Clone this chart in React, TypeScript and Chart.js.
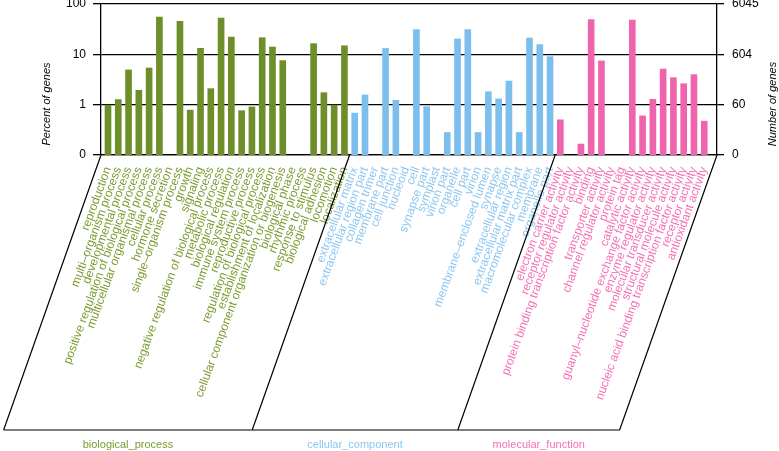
import { useEffect, useRef } from 'react';
import { Chart, registerables } from 'chart.js';
import type { Plugin } from 'chart.js';

Chart.register(...registerables);

const TOTAL_GENES = 6045;

// percent of genes per GO term (0 = no bar)
const bioLabels = [
  'reproduction',
  'multi–organism process',
  'developmental process',
  'positive regulation of biological process',
  'multicellular organismal process',
  'cellular process',
  'hormone secretion',
  'single–organism process',
  'growth',
  'signaling',
  'negative regulation of biological process',
  'metabolic process',
  'biological regulation',
  'immune system process',
  'reproductive process',
  'regulation of biological process',
  'establishment of localization',
  'cellular component organization or biogenesis',
  'biological phase',
  'rhythmic process',
  'response to stimulus',
  'biological adhesion',
  'locomotion',
  'localization',
];
const bioValues = [
  0.98, 1.26, 4.9, 1.93, 5.35, 55, 0, 45, 0.78, 13.2, 2.08, 52.7, 22, 0.76, 0.9,
  21.4, 14, 7.5, 0, 0, 16.3, 1.73, 0.98, 14.8,
];

const ccLabels = [
  'extracellular matrix',
  'extracellular region part',
  'collagen trimer',
  'membrane part',
  'cell junction',
  'nucleoid',
  'cell',
  'synapse part',
  'symplast',
  'virion part',
  'organelle',
  'cell part',
  'virion',
  'membrane–enclosed lumen',
  'synapse',
  'extracellular region',
  'extracellular matrix part',
  'macromolecular complex',
  'membrane',
  'organelle part',
];
const ccValues = [
  0.68, 1.56, 0, 13.1, 1.22, 0, 31, 0.91, 0, 0.28, 20.2, 31, 0.28, 1.81, 1.3, 2.95,
  0.28, 21.1, 15.6, 9.0,
];

const mfLabels = [
  'electron carrier activity',
  'receptor regulator activity',
  'protein binding transcription factor activity',
  'binding',
  'transporter activity',
  'channel regulator activity',
  'protein tag',
  'catalytic activity',
  'guanyl–nucleotide exchange factor activity',
  'enzyme regulator activity',
  'molecular transducer activity',
  'structural molecule activity',
  'nucleic acid binding transcription factor activity',
  'receptor activity',
  'antioxidant activity',
];
const mfValues = [0.5, 0, 0.165, 48.8, 7.4, 0, 0, 48, 0.6, 1.28, 5.1, 3.44, 2.61, 3.95, 0.47];

const groupNames = ['biological_process', 'cellular_component', 'molecular_function'];
const percentTicks = [0.1, 1, 10, 100];
const percentTickLabels = ['0', '1', '10', '100'];
const countTickLabels = ['0', '60', '604', '6045'];

const BAR_COLORS = ['#6e8e2a', '#7dbfec', '#f064ae'];
const TEXT_COLORS = ['#7b9b30', '#8cc6f0', '#f370b6'];
const FONT = '"Liberation Sans", Arial, Helvetica, sans-serif';

const groups = [
  { name: groupNames[0], labels: bioLabels, values: bioValues },
  { name: groupNames[1], labels: ccLabels, values: ccValues },
  { name: groupNames[2], labels: mfLabels, values: mfValues },
];
const allLabels = groups.flatMap((g) => g.labels);
const allValues = groups.flatMap((g) => g.values);
const groupOf = groups.flatMap((g, gi) => g.labels.map(() => gi));

const SLANT_DEG = 70.5;
const FRAME_BOTTOM = 430;

// slanted frame under the axis, group names and the two axis titles
const framePlugin: Plugin<'bar'> = {
  id: 'goFrame',
  afterDraw(chart) {
    const { ctx, chartArea, scales } = chart;
    const xs = scales.x;
    const top = chartArea.bottom;
    const shift = (FRAME_BOTTOM - top) / Math.tan((SLANT_DEG * Math.PI) / 180);
    const edges = [chartArea.left];
    let n = 0;
    groups.forEach((g, gi) => {
      n += g.labels.length;
      edges.push(
        gi === groups.length - 1
          ? chartArea.right
          : (xs.getPixelForValue(n - 1) + xs.getPixelForValue(n)) / 2,
      );
    });

    ctx.save();
    ctx.strokeStyle = '#000';
    ctx.lineWidth = 1.2;
    ctx.beginPath();
    edges.forEach((e) => {
      ctx.moveTo(e, top);
      ctx.lineTo(e - shift, FRAME_BOTTOM);
    });
    ctx.moveTo(edges[0] - shift, FRAME_BOTTOM);
    ctx.lineTo(edges[edges.length - 1] - shift, FRAME_BOTTOM);
    ctx.stroke();

    ctx.font = `11px ${FONT}`;
    ctx.textAlign = 'center';
    ctx.textBaseline = 'middle';
    groups.forEach((g, gi) => {
      ctx.fillStyle = TEXT_COLORS[gi];
      ctx.fillText(g.name, (edges[gi] + edges[gi + 1]) / 2 - shift, FRAME_BOTTOM + 15);
    });

    ctx.fillStyle = '#000';
    ctx.font = `italic 11px ${FONT}`;
    const titleY = chartArea.bottom - 51;
    [
      ['Percent of genes', 47],
      ['Number of genes', 773],
    ].forEach(([text, x]) => {
      ctx.save();
      ctx.translate(x as number, titleY);
      ctx.rotate(-Math.PI / 2);
      ctx.fillText(text as string, 0, 0);
      ctx.restore();
    });
    ctx.restore();
  },
};

export default function App() {
  const canvasRef = useRef<HTMLCanvasElement>(null);

  useEffect(() => {
    if (!canvasRef.current) return;
    Chart.defaults.font.family = FONT;

    const chart = new Chart(canvasRef.current, {
      type: 'bar',
      data: {
        datasets: [
          {
            data: allValues.map((v, i) => ({ x: i, y: v > 0 ? v : null })) as never,
            backgroundColor: allValues.map((_, i) => BAR_COLORS[groupOf[i]]),
            barThickness: 6,
          },
        ],
      },
      options: {
        animation: false,
        responsive: true,
        maintainAspectRatio: false,
        layout: { padding: { top: 4 } },
        plugins: { legend: { display: false }, tooltip: { enabled: false } },
        scales: {
          x: {
            type: 'linear',
            min: -0.68,
            max: 59.24,
            bounds: 'data',
            offset: false,
            afterBuildTicks: (s) => {
              s.ticks = allLabels.map((_, i) => ({ value: i }));
            },
            afterFit: (s) => {
              s.height = 296;
              s.paddingLeft = 0;
              s.paddingRight = 0;
            },
            grid: { display: false, offset: false },
            border: { display: true, color: '#000', width: 1.3 },
            ticks: {
              autoSkip: false,
              minRotation: 70,
              maxRotation: 70,
              padding: 2,
              font: { size: 12 },
              color: (c) => TEXT_COLORS[groupOf[c.index]] ?? '#000',
              callback: (v) => allLabels[v as number] ?? '',
            },
          },
          y: {
            type: 'logarithmic',
            position: 'left',
            min: 0.1,
            max: 100,
            afterBuildTicks: (s) => {
              s.ticks = percentTicks.map((v) => ({ value: v }));
            },
            afterFit: (s) => {
              s.width = 101;
              s.paddingTop = 0;
              s.paddingBottom = 0;
            },
            grid: { color: '#000', lineWidth: 1.3, tickLength: 8 },
            border: { color: '#000', width: 1.3 },
            ticks: {
              padding: 7,
              color: '#000',
              font: { size: 12 },
              callback: (_v, i) => percentTickLabels[i],
            },
          },
          y2: {
            type: 'logarithmic',
            position: 'right',
            min: TOTAL_GENES / 1000,
            max: TOTAL_GENES,
            afterBuildTicks: (s) => {
              s.ticks = percentTicks.map((v) => ({ value: (v * TOTAL_GENES) / 100 }));
            },
            afterFit: (s) => {
              s.width = 62;
              s.paddingTop = 0;
              s.paddingBottom = 0;
            },
            grid: { drawOnChartArea: false, color: '#000', lineWidth: 1.3, tickLength: 7 },
            border: { color: '#000', width: 1.3 },
            ticks: {
              padding: 8,
              color: '#000',
              font: { size: 12 },
              callback: (_v, i) => countTickLabels[i],
            },
          },
        },
      },
      plugins: [framePlugin],
    });

    return () => chart.destroy();
  }, []);

  return (
    <div style={{ position: 'fixed', left: 0, top: 0, width: 779, height: 451, background: '#fff' }}>
      <canvas ref={canvasRef} />
    </div>
  );
}
